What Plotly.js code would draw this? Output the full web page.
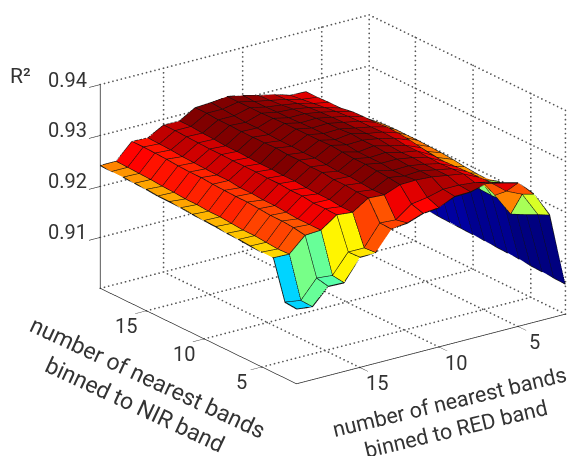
<!DOCTYPE html>
<html><head><meta charset="utf-8">
<script src="https://cdn.plot.ly/plotly-3.0.1.min.js"></script>
<style>html,body{margin:0;padding:0;background:#fff}#g{width:568px;height:456px}</style></head>
<body><div id="g"></div>
<script>
const redBands=[2,3,4,5,6,7,8,9,10,11,12,13,14,15,16,17,18,19];
const nirBands=[2,3,4,5,6,7,8,9,10,11,12,13,14,15,16,17,18,19];
const n02=[.9059,.9203,.9252,.9282,.9290,.9297,.9288,.9287,.9273,.9270,.9259,.9255,.9217,.9216,.9174,.9175,.9143,.9147];
const n03=[.9060,.9193,.9241,.9255,.9280,.9287,.9290,.9290,.9282,.9277,.9254,.9256,.9215,.9215,.9177,.9180,.9144,.9149];
const n04=[.9061,.9182,.9191,.9236,.9278,.9293,.9298,.9303,.9305,.9304,.9292,.9294,.9274,.9277,.9255,.9253,.9224,.9225];
const n05=[.9062,.9186,.9243,.9255,.9278,.9292,.9298,.9304,.9302,.9307,.9291,.9295,.9274,.9278,.9255,.9257,.9223,.9225];
const n06=[.9064,.9187,.9236,.9254,.9277,.9291,.9298,.9303,.9302,.9309,.9293,.9297,.9277,.9278,.9255,.9259,.9225,.9226];
const n07=[.9065,.9186,.9237,.9247,.9276,.9292,.9300,.9305,.9305,.9311,.9295,.9297,.9277,.9281,.9257,.9259,.9227,.9228];
const n08=[.9066,.9187,.9239,.9248,.9277,.9294,.9299,.9307,.9305,.9311,.9294,.9300,.9278,.9281,.9259,.9261,.9227,.9229];
const n09=[.9067,.9185,.9242,.9254,.9281,.9294,.9301,.9309,.9305,.9313,.9296,.9300,.9280,.9283,.9259,.9263,.9229,.9231];
const n10=[.9068,.9186,.9244,.9255,.9285,.9297,.9304,.9309,.9308,.9315,.9298,.9302,.9280,.9283,.9261,.9263,.9231,.9232];
const n11=[.9069,.9185,.9245,.9258,.9288,.9298,.9303,.9311,.9307,.9314,.9298,.9302,.9281,.9284,.9261,.9264,.9231,.9233];
const n12=[.9070,.9186,.9246,.9261,.9289,.9297,.9303,.9309,.9308,.9314,.9299,.9304,.9281,.9284,.9264,.9265,.9233,.9235];
const n13=[.9071,.9186,.9246,.9262,.9287,.9297,.9303,.9309,.9308,.9314,.9299,.9303,.9282,.9284,.9264,.9267,.9233,.9236];
const n14=[.9072,.9186,.9246,.9261,.9287,.9296,.9302,.9308,.9307,.9314,.9300,.9303,.9283,.9285,.9265,.9267,.9235,.9236];
const n15=[.9073,.9186,.9245,.9264,.9286,.9294,.9301,.9306,.9306,.9313,.9302,.9303,.9283,.9285,.9266,.9268,.9236,.9238];
const n16=[.9073,.9187,.9242,.9255,.9282,.9291,.9299,.9304,.9306,.9312,.9302,.9304,.9285,.9286,.9267,.9270,.9238,.9239];
const n17=[.9074,.9187,.9239,.9256,.9282,.9288,.9296,.9301,.9305,.9312,.9304,.9304,.9286,.9287,.9269,.9271,.9239,.9240];
const n18=[.9075,.9188,.9236,.9257,.9281,.9285,.9293,.9299,.9305,.9312,.9306,.9306,.9288,.9288,.9270,.9272,.9240,.9240];
const n19=[.9075,.9189,.9235,.9257,.9281,.9282,.9292,.9298,.9306,.9312,.9308,.9306,.9288,.9288,.9271,.9272,.9241,.9241];
const r2=[n02,n03,n04,n05,n06,n07,n08,n09,n10,n11,n12,n13,n14,n15,n16,n17,n18,n19];
const zTicks=[.91,.92,.93,.94];
const hTicks=[5,10,15];
const cmin=.906,cmax=.9305;

function jet(v){
  let t=Math.max(0,Math.min(1,(v-cmin)/(cmax-cmin)));
  t=Math.floor(t*63.999)/63;
  const f=x=>Math.round(255*Math.max(0,Math.min(1,1.5-Math.abs(4*t-x))));
  return `rgb(${f(3)},${f(2)},${f(1)})`;
}
const X=[],Y=[],Z=[],I=[],J=[],K=[],FC=[];
const nN=nirBands.length,nR=redBands.length;
nirBands.forEach((n,a)=>redBands.forEach((r,b)=>{X.push(r);Y.push(n);Z.push(r2[a][b]);}));
for(let a=0;a<nN-1;a++)for(let b=0;b<nR-1;b++){
  const p=a*nR+b,q=p+1,s=p+nR,u=s+1,c=jet(r2[a][b]);
  I.push(p,p);J.push(q,u);K.push(u,s);FC.push(c,c);
}
function wire(lift){
  const lx=[],ly=[],lz=[];
  nirBands.forEach((n,a)=>{redBands.forEach((r,b)=>{lx.push(r);ly.push(n);lz.push(r2[a][b]+lift);});lx.push(null);ly.push(null);lz.push(null);});
  redBands.forEach((r,b)=>{nirBands.forEach((n,a)=>{lx.push(r);ly.push(n);lz.push(r2[a][b]+lift);});lx.push(null);ly.push(null);lz.push(null);});
  return {type:'scatter3d',mode:'lines',x:lx,y:ly,z:lz,line:{color:'#111',width:1.5},hoverinfo:'skip',showlegend:false};
}

const Rmin=2,Rmax=19,Nmin=2,Nmax=19,Zmin=.9,Zmax=.94;
const gx=[],gy=[],gz=[];
function seg(a,b,n){for(let i=0;i<=n;i++){const f=i/n;gx.push(a[0]+(b[0]-a[0])*f);gy.push(a[1]+(b[1]-a[1])*f);gz.push(a[2]+(b[2]-a[2])*f);}}
const nR2=64,nN2=50,nZ2=44;
hTicks.forEach(t=>{seg([t,Nmin,Zmin],[t,Nmax,Zmin],nN2);seg([Rmin,t,Zmin],[Rmax,t,Zmin],nR2);
  seg([t,Nmax,Zmin],[t,Nmax,Zmax],nZ2);seg([Rmin,t,Zmin],[Rmin,t,Zmax],nZ2);});
zTicks.forEach(t=>{seg([Rmax,Nmax,t],[Rmin,Nmax,t],nR2);seg([Rmin,Nmax,t],[Rmin,Nmin,t],nN2);});
seg([Rmax,Nmax,Zmin],[Rmin,Nmax,Zmin],nR2);seg([Rmin,Nmax,Zmin],[Rmin,Nmin,Zmin],nN2);
seg([Rmin,Nmax,Zmin],[Rmin,Nmax,Zmax],nZ2);seg([Rmin,Nmin,Zmin],[Rmin,Nmin,Zmax],nZ2);

const data=[
 {type:'mesh3d',x:X,y:Y,z:Z,i:I,j:J,k:K,facecolor:FC,flatshading:true,hoverinfo:'skip',
  lighting:{ambient:1,diffuse:0,specular:0,roughness:1,fresnel:0},showscale:false},
 wire(.00004),wire(-.00004),
 {type:'scatter3d',mode:'markers',x:gx,y:gy,z:gz,marker:{color:'#555',size:1,line:{width:0}},hoverinfo:'skip',showlegend:false}
];
const fam='Roboto, sans-serif',col='#333';
const ax=(rng,vals)=>({range:rng,showgrid:false,zeroline:false,showbackground:false,showspikes:false,showline:true,linecolor:'#222',linewidth:1.5,
  tickmode:'array',tickvals:vals,ticks:'outside',ticklen:14,tickcolor:'#222',tickwidth:1.2,showticklabels:false,title:{text:''}});
const lab=(x,y,z,text,xs,ys,anchor)=>({x,y,z,text:String(text),showarrow:false,xanchor:anchor,yanchor:'middle',xshift:xs,yshift:ys,font:{family:fam,size:20,color:col}});
const sceneLabels=[
 ...zTicks.map(t=>lab(Rmax,Nmax,t,t.toFixed(2),-11,5,'right')),
 ...hTicks.map(t=>lab(Rmax,t,Zmin,t,-20,-15,'center')),
 ...hTicks.map(t=>lab(t,Nmin,Zmin,t,17,-16,'center'))
];
const r=3, cx=-.3818, cy=-.1597;
const layout={width:568,height:456,margin:{l:0,r:0,t:0,b:0},paper_bgcolor:'#fff',showlegend:false,
 scene:{domain:{x:[0,1],y:[0,1]},aspectmode:'manual',aspectratio:{x:1.46,y:1.46,z:.956},
  camera:{projection:{type:'orthographic'},eye:{x:-.551*r+cx,y:-.755*r+cy,z:.355*r},center:{x:cx,y:cy,z:0},up:{x:0,y:0,z:1}},
  xaxis:ax([19,2],hTicks),yaxis:ax([2,19],hTicks),zaxis:ax([.9,.94],zTicks),annotations:sceneLabels},
 annotations:[
  {xref:'paper',yref:'paper',x:20/568,y:1-76/456,xanchor:'center',yanchor:'middle',text:'R²',showarrow:false,font:{family:fam,size:21,color:col}},
  {xref:'paper',yref:'paper',x:141/568,y:1-391.5/456,xanchor:'center',yanchor:'middle',text:'number of nearest bands<br>binned to NIR band',textangle:25,showarrow:false,font:{family:fam,size:23,color:col}},
  {xref:'paper',yref:'paper',x:452.5/568,y:1-415.5/456,xanchor:'center',yanchor:'middle',text:'number of nearest bands<br>binned to RED band',textangle:-13.5,showarrow:false,font:{family:fam,size:21.5,color:col}}
 ]};
Plotly.newPlot('g',data,layout,{displayModeBar:false}).catch(e=>{document.body.insertAdjacentHTML('beforeend','<pre>'+e+'</pre>')});
</script></body></html>
